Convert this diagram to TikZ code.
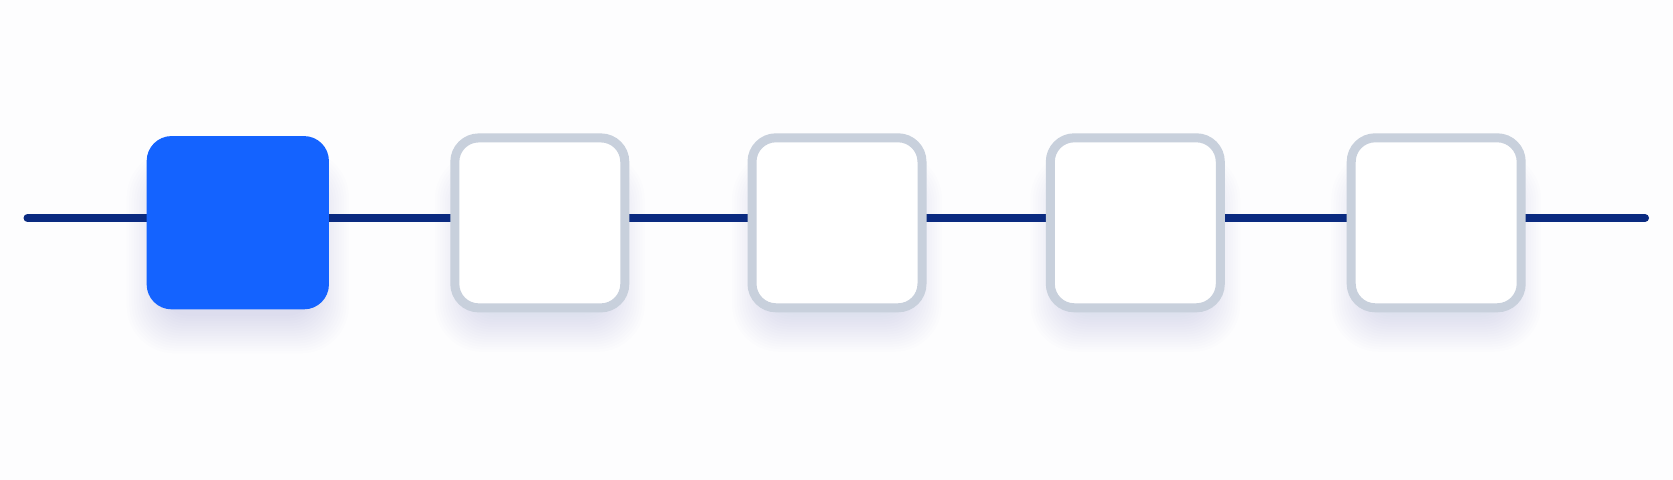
\documentclass[tikz,border=0pt]{standalone}
\usetikzlibrary{calc}
\definecolor{boxblue}{HTML}{1463FF}
\definecolor{navy}{HTML}{0A2A80}
\definecolor{outlinegray}{HTML}{C8D0DC}
\definecolor{shblue}{HTML}{2D5FE6}
\definecolor{shgray}{HTML}{5A6680}
\definecolor{pagebg}{HTML}{FDFDFE}
\pgfdeclarelayer{bgzero}
\pgfdeclarelayer{bgone}
\pgfsetlayers{bgzero,bgone,main}
\newcommand{\myboxshadow}[2]{%
  \foreach \k in {1,...,16}{%
    \pgfmathsetmacro{\dd}{2.5*\k-14}%
    \pgfmathsetmacro{\rr}{11+0.8*\k}%
    \fill[#2, opacity=0.008, rounded corners=\rr pt]
      ($(#1.north west)+(-\dd+6,40-\dd)$) rectangle ($(#1.south east)+(\dd-6,18+\dd)$);
  }%
}
\begin{document}
\begin{tikzpicture}[x=0.5pt,y=-0.5pt,
  trackline/.style={navy, line width=4pt, line cap=round},
  filledbox/.style={rectangle, fill=boxblue, rounded corners=12.5pt,
    minimum width=91.15pt, minimum height=86.65pt, inner sep=0pt, outer sep=0pt},
  openbox/.style={rectangle, draw=outlinegray, fill=white, line width=4.5pt,
    rounded corners=12pt, minimum width=85pt, minimum height=85pt,
    inner sep=0pt, outer sep=0pt}]
\useasboundingbox (0,0) rectangle (1673,480);
\begin{pgfonlayer}{bgzero}
  \fill[pagebg] (0,0) rectangle (1673,480);
\end{pgfonlayer}
\node[filledbox] (b1) at (237.8,222.7) {};
\node[openbox] (b2) at (539.8,222.9) {};
\node[openbox] (b3) at (837,222.8) {};
\node[openbox] (b4) at (1135.3,222.8) {};
\node[openbox] (b5) at (1436.2,222.8) {};
\coordinate (s) at (27.5,218);
\coordinate (e) at (1645,218);
\begin{pgfonlayer}{bgone}
  \myboxshadow{b1}{shblue}
  \myboxshadow{b2}{shgray}
  \myboxshadow{b3}{shgray}
  \myboxshadow{b4}{shgray}
  \myboxshadow{b5}{shgray}
  \draw[trackline] (s) -- (s -| b1.west);
  \draw[trackline] (s -| b1.east) -- (s -| b2.west);
  \draw[trackline] (s -| b2.east) -- (s -| b3.west);
  \draw[trackline] (s -| b3.east) -- (s -| b4.west);
  \draw[trackline] (s -| b4.east) -- (s -| b5.west);
  \draw[trackline] (s -| b5.east) -- (e);
\end{pgfonlayer}
\end{tikzpicture}
\end{document}
